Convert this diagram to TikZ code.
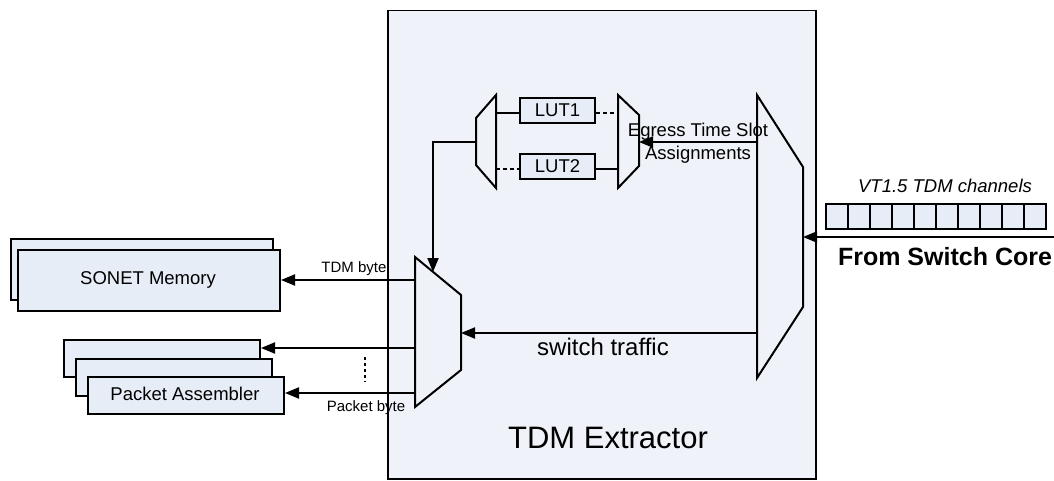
\documentclass[tikz,border=0pt]{standalone}
\usepackage{fontspec}
\setmainfont{Liberation Sans}
\usetikzlibrary{arrows.meta}
\definecolor{bgfill}{RGB}{239,243,249}
\definecolor{boxfill}{RGB}{231,237,247}
\begin{document}
\begin{tikzpicture}[x=1pt,y=-1pt,line width=2pt,
  box/.style={draw,fill=boxfill,line width=2pt,inner sep=0pt,anchor=north west},
  mux/.style={draw,fill=bgfill,line width=2pt,line join=miter},
  arr/.style={-{Triangle[length=14pt,width=11pt]}},
  dotl/.style={dash pattern=on 4pt off 3pt},
  lbl/.style={inner sep=0pt,text=black},
  f15/.style={font=\fontsize{15}{18}\selectfont},
  f18/.style={font=\fontsize{18.5}{23}\selectfont},
  f23/.style={font=\fontsize{24}{28}\selectfont},
  f30/.style={font=\fontsize{31}{36}\selectfont}]
\useasboundingbox (0,0) rectangle (1054,481);
% main extractor box
\node[draw,fill=bgfill,line width=1.5pt,inner sep=0pt,anchor=north west,
      minimum width=428pt,minimum height=468pt] (ext) at (387,10) {};
\node[lbl,f30] (extlbl) at (608,438) {TDM Extractor};

% multiplexers (corner coordinates)
\coordinate (lm1) at (476,118); \coordinate (lm2) at (496,95);
\coordinate (lm3) at (496,188); \coordinate (lm4) at (476,165);
\draw[mux] (lm1) -- (lm2) -- (lm3) -- (lm4) -- cycle;
\coordinate (rm1) at (618,95); \coordinate (rm2) at (639,115);
\coordinate (rm3) at (639,166); \coordinate (rm4) at (618,188);
\draw[mux] (rm1) -- (rm2) -- (rm3) -- (rm4) -- cycle;
\coordinate (bm1) at (757,95); \coordinate (bm2) at (803,167);
\coordinate (bm3) at (803,307); \coordinate (bm4) at (757,378);
\draw[mux] (bm1) -- (bm2) -- (bm3) -- (bm4) -- cycle;
\coordinate (om1) at (415,257); \coordinate (om2) at (461,295);
\coordinate (om3) at (461,370); \coordinate (om4) at (415,407);
\draw[mux] (om1) -- (om2) -- (om3) -- (om4) -- cycle;

% LUTs
\node[box,minimum width=75pt,minimum height=25pt] (lut1) at (519,97) {};
\node[lbl,f18] at (lut1.center) {LUT1};
\node[box,minimum width=75pt,minimum height=25pt] (lut2) at (519,153) {};
\node[lbl,f18] at (lut2.center) {LUT2};

% ports
\coordinate (lmA) at (496,113); \coordinate (lmB) at (496,169);
\coordinate (rmA) at (618,113); \coordinate (rmB) at (618,169);
\draw (lmA) -- (lmA -| lut1.west);
\draw[dotl] (lut1.east |- rmA) -- (rmA);
\draw[dotl] (lmB) -- (lmB -| lut2.west);
\draw (lut2.east |- rmB) -- (rmB);

% egress time slot assignments
\coordinate (bmE) at (757,142); \coordinate (rmE) at (639,142);
\draw[arr] (bmE) -- (rmE);
\node[lbl,f18,align=center] (egr) at (698,143) {Egress Time Slot\\Assignments};

% from small left mux down to output mux
\coordinate (lmO) at (476,142); \coordinate (bend) at (433,142);
\coordinate (omT) at (433,272);
\draw[arr] (lmO) -- (bend) -- (omT);

% switch traffic
\coordinate (bmS) at (757,333); \coordinate (omS) at (461,333);
\draw[arr] (bmS) -- (omS);
\node[lbl,f23] (swt) at (603,347) {switch traffic};

% input channels
\foreach \i in {0,...,9}{
  \node[box,minimum width=22pt,minimum height=25pt] (ch\i) at (825+22*\i,203) {};
}
\node[lbl,f18] (vtl) at (945,186) {\itshape VT1.5 TDM channels};
\coordinate (inR) at (1054,237); \coordinate (bmI) at (803,237);
\draw[arr] (inR) -- (bmI);
\node[lbl,font=\fontsize{25}{30}\selectfont\bfseries] (fsc) at (945,257) {From Switch Core};

% SONET memory
\node[box,minimum width=262pt,minimum height=61pt] (son2) at (10,238) {};
\node[box,minimum width=262pt,minimum height=61pt] (son1) at (17,249) {};
\node[lbl,f18] at (148,280) {SONET Memory};

% packet assemblers
\node[box,minimum width=196pt,minimum height=37pt] (pa3) at (63,339) {};
\node[box,minimum width=196pt,minimum height=37pt] (pa2) at (75,357.5) {};
\node[box,minimum width=196pt,minimum height=37pt] (pa1) at (87,376) {};
\node[lbl,f18] at (185,394) {Packet Assembler};

% outputs
\coordinate (omA) at (415,280); \coordinate (omB) at (415,348);
\coordinate (omC) at (415,393);
\draw[arr] (omA) -- (omA -| son1.east);
\draw[arr] (omB) -- (omB -| pa3.east);
\draw[arr] (omC) -- (omC -| pa1.east);
\node[lbl,f15] (tdmb) at (354,269) {TDM byte};
\node[lbl,f15] (pktb) at (366,408) {Packet byte};
\coordinate (dA) at (365,357); \coordinate (dB) at (365,382);
\draw[dash pattern=on 3pt off 3pt] (dA) -- (dB);
\end{tikzpicture}
\end{document}
